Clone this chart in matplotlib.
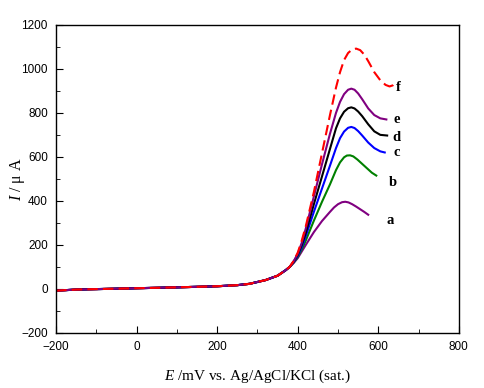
import matplotlib
matplotlib.use("Agg")
import matplotlib.pyplot as plt
from matplotlib.ticker import MultipleLocator

plt.rcParams['font.family'] = ['Liberation Sans', 'DejaVu Sans']
plt.rcParams['mathtext.fontset'] = 'custom'
plt.rcParams['mathtext.rm'] = 'Liberation Serif'
plt.rcParams['mathtext.it'] = 'Liberation Serif:italic'

# shared baseline before the oxidation wave
base_E = [-200, -150, -100, 0, 100, 200, 250, 280, 320, 350, 370, 380]
base_I = [-8, -3, -1, 3, 7, 12, 17, 23, 40, 60, 85, 100]

a_E = [390, 400, 410, 420, 440, 460, 480, 490, 500, 510, 518, 526, 535, 545, 555, 565, 575]
a_I = [118, 140, 170, 200, 258, 308, 350, 370, 385, 394, 396, 393, 385, 374, 362, 350, 337]

b_E = [390, 400, 410, 420, 440, 460, 480, 495, 505, 515, 522, 530, 538, 548, 560, 572, 584, 595]
b_I = [120, 145, 180, 220, 310, 395, 475, 540, 575, 598, 606, 607, 602, 588, 568, 548, 528, 515]

c_E = [390, 400, 410, 420, 440, 460, 480, 495, 505, 515, 525, 533, 541, 550, 560, 575, 590, 605, 616]
c_I = [122, 150, 190, 240, 350, 455, 560, 640, 685, 715, 732, 736, 731, 717, 697, 665, 640, 625, 620]

d_E = [390, 400, 410, 420, 440, 460, 480, 495, 505, 515, 525, 533, 541, 550, 560, 575, 590, 605, 622]
d_I = [124, 155, 200, 255, 385, 510, 636, 730, 775, 805, 821, 825, 820, 806, 785, 748, 716, 700, 697]

e_E = [390, 400, 410, 420, 440, 460, 480, 495, 505, 515, 525, 533, 541, 550, 560, 575, 590, 605, 620]
e_I = [126, 160, 210, 275, 420, 565, 705, 800, 850, 885, 905, 910, 905, 888, 862, 820, 790, 775, 770]

f_E = [390, 400, 410, 420, 440, 460, 480, 495, 505, 515, 525, 535, 545, 555, 565, 575, 590, 605, 618, 628, 636, 642]
f_I = [128, 165, 220, 285, 440, 615, 790, 915, 985, 1040, 1072, 1088, 1092, 1085, 1065, 1035, 985, 948, 927, 920, 925, 938]

labels = ['a', 'b', 'c', 'd', 'e', 'f']
label_E = [629, 637, 645, 645, 645, 650]
label_I = [309, 485, 621, 688, 770, 917]

fig = plt.figure(figsize=(4.84, 3.88), dpi=100)
ax = fig.add_axes([0.116, 0.142, 0.832, 0.794])

curves = [(a_E, a_I, '#800080', '-'),
          (b_E, b_I, '#008000', '-'),
          (c_E, c_I, '#0000ff', '-'),
          (d_E, d_I, '#000000', '-'),
          (e_E, e_I, '#800080', '-'),
          (f_E, f_I, '#ff0000', '--')]

for E, I, col, ls in curves:
    line, = ax.plot(base_E + E, base_I + I, color=col, lw=1.5, ls=ls)
    if ls == '--':
        line.set_dashes((5, 2.5))

for lab, x, y in zip(labels, label_E, label_I):
    ax.text(x, y, lab, ha='center', va='center', fontsize=10.5,
            fontweight='bold', family='Liberation Serif')

ax.set_xlim(-200, 800)
ax.set_ylim(-200, 1200)
ax.xaxis.set_major_locator(MultipleLocator(200))
ax.xaxis.set_minor_locator(MultipleLocator(100))
ax.yaxis.set_major_locator(MultipleLocator(200))
ax.yaxis.set_minor_locator(MultipleLocator(100))
ax.tick_params(which='both', direction='in', top=False, right=False,
               labelsize=8.5)
ax.tick_params(which='major', length=5, pad=6)
ax.tick_params(which='minor', length=3)
for s in ax.spines.values():
    s.set_linewidth(1.0)

ax.set_xlabel('$E$ /mV vs. Ag/AgCl/KCl (sat.)', fontsize=11,
              family='Liberation Serif')
ax.set_ylabel('$I$ / μ A', fontsize=11.5, family='Liberation Serif')
ax.xaxis.set_label_coords(0.5, -0.112)
ax.yaxis.set_label_coords(-0.073, 0.5)

plt.savefig('out.png', dpi=100)
